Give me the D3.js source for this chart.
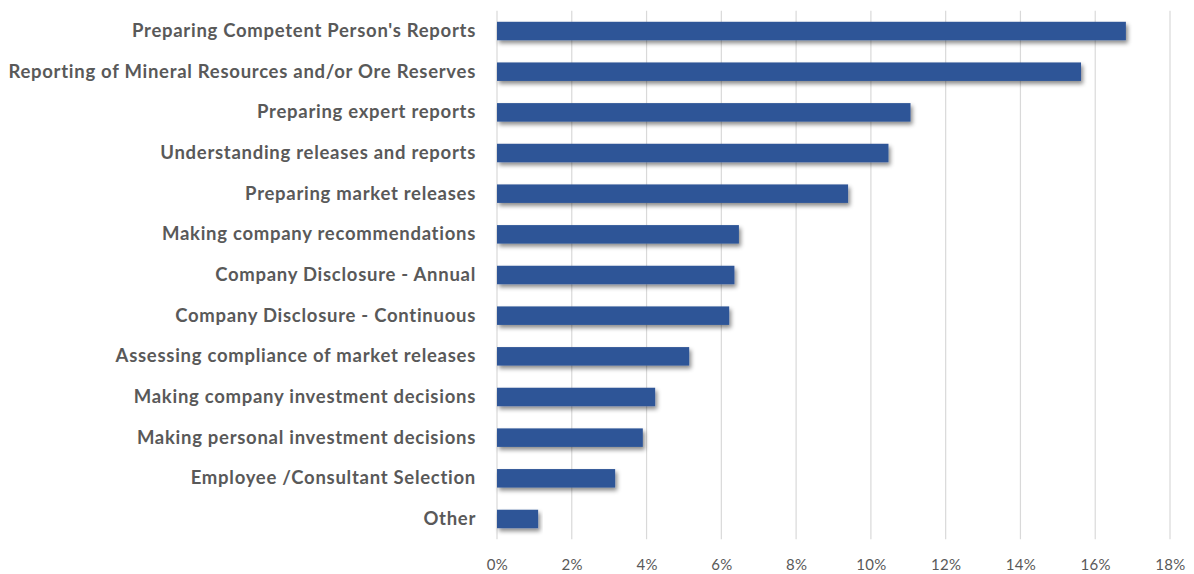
<!DOCTYPE html>
<html><head><meta charset="utf-8">
<script src="https://cdn.jsdelivr.net/npm/d3@7"></script>
<style>body{margin:0;background:#fff;} text{font-family:Lato,"Open Sans",sans-serif;}</style>
</head><body>
<svg id="chart" width="1194" height="574"></svg>
<script>
const categories = [
  "Preparing Competent Person's Reports",
  "Reporting of Mineral Resources and/or Ore Reserves",
  "Preparing expert reports",
  "Understanding releases and reports",
  "Preparing market releases",
  "Making company recommendations",
  "Company Disclosure - Annual",
  "Company Disclosure - Continuous",
  "Assessing compliance of market releases",
  "Making company investment decisions",
  "Making personal investment decisions",
  "Employee /Consultant Selection",
  "Other"
];
const values = [16.82, 15.62, 11.06, 10.47, 9.39, 6.47, 6.35, 6.21, 5.14, 4.23, 3.90, 3.16, 1.10];
const tickValues = [0, 2, 4, 6, 8, 10, 12, 14, 16, 18];

const svg = d3.select("#chart");
const x0 = 497, x1 = 1170, yTop = 10.7, yBot = 539.3;
const x = d3.scaleLinear().domain([0, 18]).range([x0, x1]);
const y = d3.scaleBand().domain(categories).range([yTop, yBot]).paddingInner(0.545).paddingOuter(0.2725);

const defs = svg.append("defs");
const f = defs.append("filter").attr("id", "sh").attr("x", "-5%").attr("y", "-50%").attr("width", "115%").attr("height", "250%");
f.append("feDropShadow").attr("dx", 2).attr("dy", 3).attr("stdDeviation", 2).attr("flood-color", "#000").attr("flood-opacity", 0.45);

// gridlines
svg.append("g").selectAll("line").data(tickValues).join("line")
  .attr("x1", d => x(d)).attr("x2", d => x(d))
  .attr("y1", yTop).attr("y2", yBot)
  .attr("stroke", "#d9d9d9").attr("stroke-width", 1.2);

// x axis labels
const xAxis = d3.axisBottom(x).tickValues(tickValues).tickFormat(d => d + "%").tickSize(0).tickPadding(0);
const gx = svg.append("g").attr("transform", `translate(0,${yBot})`).call(xAxis);
gx.select(".domain").remove();
gx.selectAll("text").attr("dy", 0).attr("y", 31).attr("fill", "#595959")
  .style("font-family", "Lato, sans-serif").style("font-size", "15px").style("letter-spacing", "0.3px");

// bars
svg.append("g").selectAll("rect").data(values).join("rect")
  .attr("x", x(0)).attr("y", (d, i) => y(categories[i]))
  .attr("width", d => x(d) - x(0)).attr("height", y.bandwidth())
  .attr("fill", "#2F5597").attr("filter", "url(#sh)");

// y labels
const yAxis = d3.axisLeft(y).tickSize(0).tickPadding(21);
const gy = svg.append("g").attr("transform", `translate(${x0},0)`).call(yAxis);
gy.select(".domain").remove();
gy.selectAll("text").attr("fill", "#595959").style("font-family", "Lato, sans-serif")
  .style("font-size", "18.5px").style("font-weight", "bold").style("letter-spacing", "0.72px");
</script>
</body></html>
